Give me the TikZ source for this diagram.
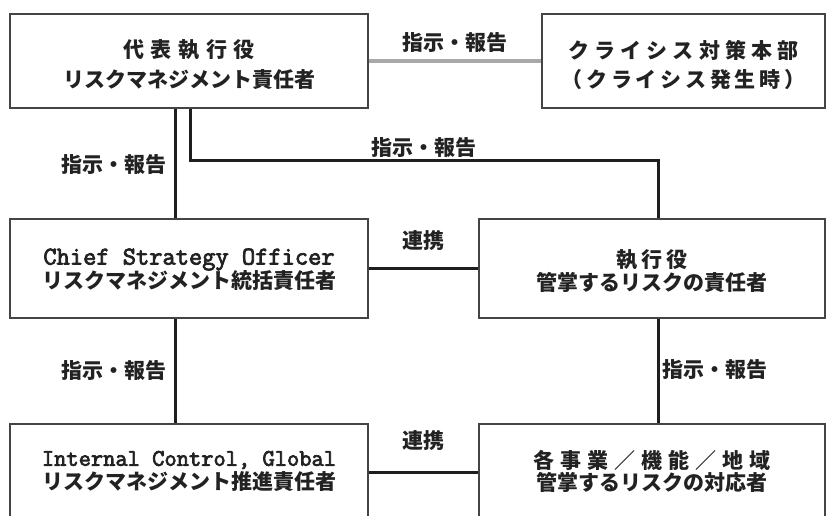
\documentclass[tikz,border=0pt]{standalone}
\usepackage{fontspec}
\newfontfamily\jp{Noto Sans CJK JP}
\newfontfamily\lmmono{Latin Modern Mono}[FakeBold=3]
\definecolor{boxc}{HTML}{444444}
\definecolor{linec}{HTML}{1E1E1E}
\definecolor{grayline}{HTML}{A8A8A8}
\definecolor{txt}{HTML}{222222}
\tikzset{
  box/.style={draw=boxc, line width=1.4pt, minimum width=#1, minimum height=94pt, inner sep=0pt},
  conn/.style={draw=linec, line width=3pt},
  gconn/.style={draw=grayline, line width=3.2pt},
  jtxt/.style={font=\jp\bfseries\fontsize{21}{21}\selectfont, text=txt, inner sep=0pt},
  jhead/.style={font=\jp\bfseries\fontsize{21}{21}\selectfont\addfontfeature{LetterSpace=#1}, text=txt, inner sep=0pt},
  mtxt/.style={font=\lmmono\fontsize{#1}{#1}\selectfont, text=txt, inner sep=0pt},
  lab/.style={font=\jp\bfseries\fontsize{21}{21}\selectfont, text=txt, inner sep=0pt}
}
\begin{document}
\begin{tikzpicture}[x=1pt,y=-1pt]
\clip (0,0) rectangle (826,515);
\fill[white] (0,0) rectangle (826,515);
% boxes
\node[box=358pt] (ceo) at (189,61) {};
\node[box=283pt] (crisis) at (683.5,61) {};
\node[box=358pt, minimum height=99pt] (cso) at (189,268.5) {};
\node[box=346pt, minimum height=99pt] (exec) at (652,268.5) {};
\node[box=358pt] (icg) at (189,471) {};
\node[box=346pt] (biz) at (652,471) {};
% texts
\node[jhead=32] (ceo1) at ([yshift=11pt]ceo.center) {代表執行役};
\node[jtxt] (ceo2) at ([yshift=-19pt]ceo.center) {リスクマネジメント責任者};
\node[jhead=24] (cr1) at ([yshift=11pt]crisis.center) {クライシス対策本部};
\node[jhead=18] (cr2) at ([yshift=-19pt]crisis.center) {（クライシス発生時）};
\node[mtxt=25.7] (cso1) at ([yshift=9pt]cso.center) {Chief Strategy Officer};
\node[jtxt] (cso2) at ([yshift=-12.5pt]cso.center) {リスクマネジメント統括責任者};
\node[jhead=19] (ex1) at ([yshift=8.5pt]exec.center) {執行役};
\node[jtxt] (ex2) at ([yshift=-13.5pt]exec.center) {管掌するリスクの責任者};
\node[mtxt=23.8] (icg1) at ([yshift=11pt]icg.center) {Internal Control, Global};
\node[jtxt] (icg2) at ([yshift=-11pt]icg.center) {リスクマネジメント推進責任者};
\node[jhead=28] (biz1) at ([yshift=11pt]biz.center) {各事業／機能／地域};
\node[jtxt] (biz2) at ([yshift=-11pt]biz.center) {管掌するリスクの対応者};
% connectors
\coordinate (elb) at (658,160);
\draw[gconn] (ceo.east) -- (crisis.west);
\draw[conn] ([xshift=-14pt]ceo.south) -- ([xshift=-14pt]cso.north);
\draw[conn] ([xshift=1pt]ceo.south) |- (elb) -- ([xshift=6pt]exec.north);
\draw[conn] (cso.east) -- (exec.west);
\draw[conn] ([xshift=-14pt]cso.south) -- ([xshift=-14pt]icg.north);
\draw[conn] ([xshift=6pt]exec.south) -- ([xshift=6pt]biz.north);
\draw[conn] ([yshift=-1pt]icg.east) -- ([yshift=-1pt]biz.west);
% labels
\node[lab] (l1) at (455,43) {指示・報告};
\node[lab] (l2) at (423.5,148) {指示・報告};
\node[lab] (l3) at (114,165) {指示・報告};
\node[lab] (l4) at (114,371) {指示・報告};
\node[lab] (l5) at (715,370) {指示・報告};
\node[lab] (l6) at (423,241) {連携};
\node[lab] (l7) at (423,441) {連携};
\end{tikzpicture}
\end{document}
